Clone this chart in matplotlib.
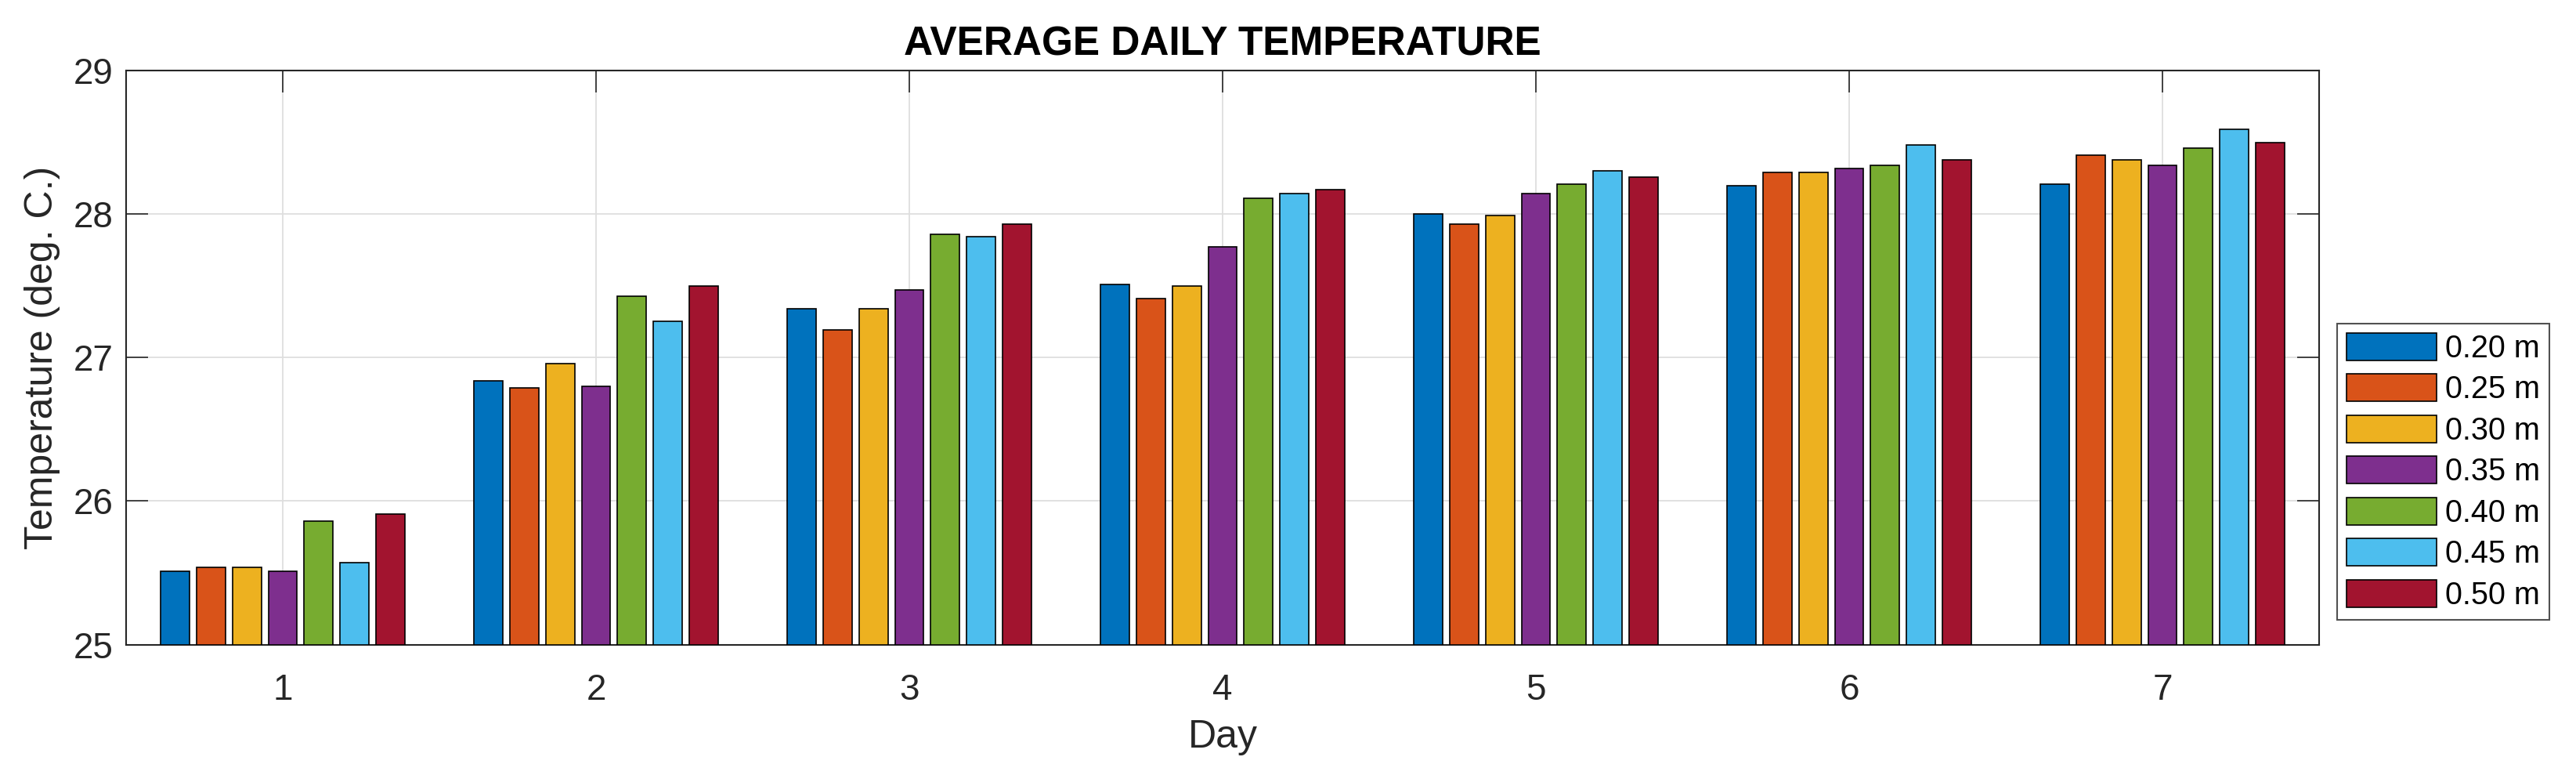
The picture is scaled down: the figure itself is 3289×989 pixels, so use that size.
import numpy as np
import matplotlib.pyplot as plt

days = [1, 2, 3, 4, 5, 6, 7]
depths = ['0.20 m', '0.25 m', '0.30 m', '0.35 m', '0.40 m', '0.45 m', '0.50 m']
colors = ['#0072BD', '#D95319', '#EDB120', '#7E2F8E', '#77AC30', '#4DBEEE', '#A2142F']

# one list per depth, values for day 1..7
t020 = [25.51, 26.84, 27.34, 27.51, 28.00, 28.20, 28.21]
t025 = [25.54, 26.79, 27.19, 27.41, 27.93, 28.29, 28.41]
t030 = [25.54, 26.96, 27.34, 27.50, 27.99, 28.29, 28.38]
t035 = [25.51, 26.80, 27.47, 27.77, 28.14, 28.32, 28.34]
t040 = [25.86, 27.43, 27.86, 28.11, 28.21, 28.34, 28.46]
t045 = [25.57, 27.25, 27.84, 28.14, 28.30, 28.48, 28.59]
t050 = [25.91, 27.50, 27.93, 28.17, 28.26, 28.38, 28.50]
series = [t020, t025, t030, t035, t040, t045, t050]

plt.rcParams['font.family'] = ['Liberation Sans', 'DejaVu Sans']

fig = plt.figure(figsize=(32.89, 9.89), dpi=100)
ax = fig.add_axes([161/3289, 1 - 822.5/989, (2961-161)/3289, (822.5-90)/989])

x = np.arange(len(days)) + 1
step = 0.1146
width = 0.092
base = 25
for i, (vals, lab, col) in enumerate(zip(series, depths, colors)):
    off = (i - 3) * step
    ax.bar(x + off, np.array(vals) - base, width, bottom=base, color=col,
           edgecolor='black', linewidth=1.2, label=lab, zorder=3)

ax.set_xlim(0.5, 7.5)
ax.set_ylim(25, 29)
ax.set_xticks(x)
ax.set_yticks([25, 26, 27, 28, 29])
ax.grid(True, color='#dedede', linewidth=1.3, zorder=0)
ax.set_axisbelow(True)

ax.tick_params(direction='in', length=20, width=1.2, top=True, right=True,
               labelsize=33, colors='#262626', pad=12)
ax.tick_params(axis='x', pad=26)
for s in ax.spines.values():
    s.set_color('#262626')
    s.set_linewidth(1.5)

ax.set_xlabel('Day', fontsize=36, color='#262626', labelpad=11)
ax.set_ylabel('Temperature (deg. C.)', fontsize=36, color='#262626', labelpad=12)
ax.set_title('AVERAGE DAILY TEMPERATURE', fontsize=37, fontweight='bold', pad=14)

leg = fig.legend(loc='upper left', bbox_to_anchor=(2984/3289, 1 - 413/989),
                 fontsize=28.5, frameon=True, fancybox=False, edgecolor='#262626',
                 handlelength=2.9, handleheight=0.98, labelspacing=0.34,
                 handletextpad=0.28, borderpad=0.3, borderaxespad=0)
leg.get_frame().set_linewidth(1.5)

fig.savefig('out.png', dpi=100)
